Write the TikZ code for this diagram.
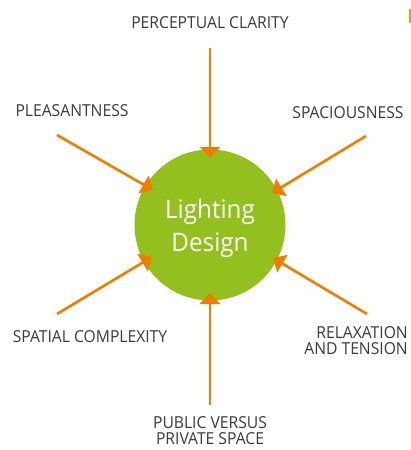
\documentclass[tikz,border=0pt]{standalone}
\usepackage{fontspec}
\setmainfont{Open Sans}[FakeStretch=0.95]
\usetikzlibrary{arrows.meta}
\definecolor{lgreen}{HTML}{93C01F}
\definecolor{lorange}{HTML}{EF7D00}
\definecolor{tgray}{HTML}{3A3A3A}
\tikzset{
  lbl/.style={text=tgray, font=\fontsize{16.5}{16}\selectfont, inner sep=0pt},
  conn/.style={draw=lorange, line width=2.6pt, -{Triangle[length=11pt,width=20pt]}, shorten >=0pt}
}
\begin{document}
\begin{tikzpicture}[x=1pt,y=-1pt]
\useasboundingbox (0,0) rectangle (411,450);
\fill[white] (0,0) rectangle (411,450);
\node[circle, fill=lgreen, minimum size=151pt, inner sep=0pt] (c) at (210,225) {};
\node[text=white, font=\fontsize{25.5}{33}\selectfont, align=center, inner sep=0pt] (ct) at (210,228) {Lighting\\Design};
\node[lbl] (pc) at (210,23) {PERCEPTUAL CLARITY};
\node[lbl] (pl) at (72,111) {PLEASANTNESS};
\node[lbl] (sp) at (348,113) {SPACIOUSNESS};
\node[lbl] (sc) at (90,337) {SPATIAL COMPLEXITY};
\node[lbl, align=right, anchor=east] (rt) at (408,341) {RELAXATION\\AND TENSION};
\node[lbl, align=center] (pp) at (210,430.5) {PUBLIC VERSUS\\PRIVATE SPACE};
\coordinate (s1) at (210,48);  \coordinate (t1) at (210,158);
\coordinate (s2) at (57,135);  \coordinate (t2) at (153,190);
\coordinate (s3) at (366,136); \coordinate (t3) at (272,193);
\coordinate (s4) at (57,314);  \coordinate (t4) at (152,257);
\coordinate (s5) at (367,314); \coordinate (t5) at (273,258);
\coordinate (s6) at (210,405); \coordinate (t6) at (210,293);
\foreach \i in {1,...,6} {\draw[conn] (s\i) -- (t\i);}
\fill[lgreen] (409,9) rectangle (410.5,23);
\end{tikzpicture}
\end{document}
